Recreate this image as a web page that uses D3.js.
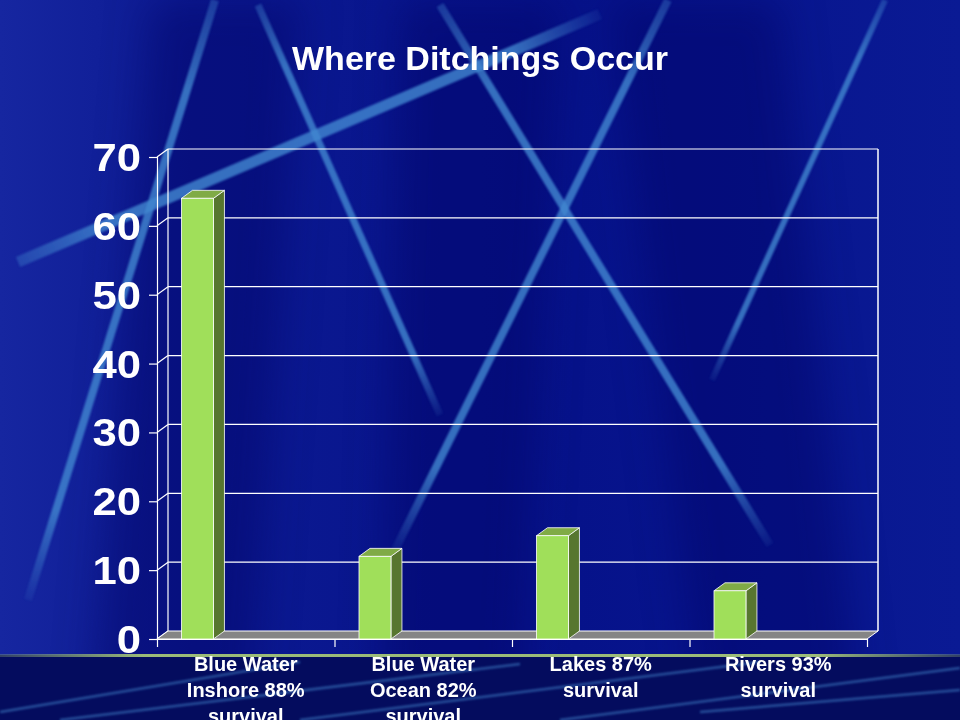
<!DOCTYPE html>
<html>
<head>
<meta charset="utf-8">
<script src="https://cdn.jsdelivr.net/npm/d3@7"></script>
<style>
  html, body { margin: 0; padding: 0; background: #0a1890; }
  svg { display: block; }
  text { font-family: "Liberation Sans", Arial, sans-serif; font-weight: bold; fill: #ffffff; }
</style>
</head>
<body>
<svg id="chart" width="960" height="720"></svg>
<script>
// ---- data ----
const title = "Where Ditchings Occur";
const categories = [
  ["Blue Water", "Inshore 88%", "survival"],
  ["Blue Water", "Ocean 82%", "survival"],
  ["Lakes 87%", "survival"],
  ["Rivers 93%", "survival"]
];
const values = [64, 12, 15, 7];
const yTicks = [0, 10, 20, 30, 40, 50, 60, 70];

// ---- layout ----
const W = 960, H = 720;
const plot = { left: 157, right: 867, top: 157, bottom: 639 };
const depth = { dx: 11, dy: -8 };

const svg = d3.select("#chart");
const defs = svg.append("defs");

// background
const bg = defs.append("linearGradient").attr("id", "bg").attr("x1", 0).attr("y1", 0).attr("x2", 1).attr("y2", 0);
bg.append("stop").attr("offset", 0).attr("stop-color", "#1626a0");
bg.append("stop").attr("offset", 0.2).attr("stop-color", "#0c1a92");
bg.append("stop").attr("offset", 0.6).attr("stop-color", "#06128a");
bg.append("stop").attr("offset", 1).attr("stop-color", "#0a1a94");
svg.append("rect").attr("width", W).attr("height", H).attr("fill", "url(#bg)");

const blur = defs.append("filter").attr("id", "soft").attr("x", "-20%").attr("y", "-20%").attr("width", "140%").attr("height", "140%");
blur.append("feGaussianBlur").attr("stdDeviation", 1.2);
const blurBig = defs.append("filter").attr("id", "softBig").attr("x", "-20%").attr("y", "-20%").attr("width", "140%").attr("height", "140%");
blurBig.append("feGaussianBlur").attr("stdDeviation", 20);

// darker background wedges
const wedges = [
  [[150, 0], [300, 0], [250, 720], [90, 720]],
  [[400, 0], [560, 0], [520, 720], [380, 720]],
  [[610, 0], [780, 0], [860, 720], [700, 720]]
];
svg.append("g").attr("filter", "url(#softBig)")
  .selectAll("polygon").data(wedges).join("polygon")
  .attr("points", d => d.map(p => p.join(",")).join(" "))
  .attr("fill", "#000560").attr("opacity", 0.4);

// light streaks
const streaks = [
  [18, 262, 600, 14, 11],
  [215, 0, 28, 600, 8],
  [258, 5, 440, 415, 7],
  [440, 5, 770, 545, 8],
  [668, 0, 395, 550, 8],
  [885, 0, 712, 380, 6]
];
streaks.forEach((s, i) => {
  const g = defs.append("linearGradient").attr("id", "st" + i).attr("gradientUnits", "userSpaceOnUse")
    .attr("x1", s[0]).attr("y1", s[1]).attr("x2", s[2]).attr("y2", s[3]);
  g.append("stop").attr("offset", 0).attr("stop-color", "#4288d0").attr("stop-opacity", 0.35);
  g.append("stop").attr("offset", 0.15).attr("stop-color", "#4288d0").attr("stop-opacity", 0.8);
  g.append("stop").attr("offset", 0.85).attr("stop-color", "#4288d0").attr("stop-opacity", 0.8);
  g.append("stop").attr("offset", 1).attr("stop-color", "#4288d0").attr("stop-opacity", 0.1);
});
svg.append("g").attr("filter", "url(#soft)")
  .selectAll("line").data(streaks).join("line")
  .attr("x1", d => d[0]).attr("y1", d => d[1]).attr("x2", d => d[2]).attr("y2", d => d[3])
  .attr("stroke", (d, i) => `url(#st${i})`).attr("stroke-width", d => d[4]);

// bottom strip
svg.append("rect").attr("x", 0).attr("y", 655).attr("width", W).attr("height", H - 655).attr("fill", "#040c5e");
const bstreaks = [[0, 712, 300, 662], [60, 720, 520, 664], [300, 720, 760, 662], [560, 720, 960, 668], [700, 712, 960, 690]];
svg.append("g").attr("filter", "url(#soft)")
  .selectAll("line").data(bstreaks).join("line")
  .attr("x1", d => d[0]).attr("y1", d => d[1]).attr("x2", d => d[2]).attr("y2", d => d[3])
  .attr("stroke", "#3c7cc4").attr("stroke-width", 2.5).attr("opacity", 0.6);
const lg = defs.append("linearGradient").attr("id", "olive").attr("x1", 0).attr("x2", 1);
lg.append("stop").attr("offset", 0).attr("stop-color", "#9cbc78").attr("stop-opacity", 0.3);
lg.append("stop").attr("offset", 0.15).attr("stop-color", "#9cbc78").attr("stop-opacity", 1);
lg.append("stop").attr("offset", 0.85).attr("stop-color", "#9cbc78").attr("stop-opacity", 1);
lg.append("stop").attr("offset", 1).attr("stop-color", "#9cbc78").attr("stop-opacity", 0.3);
svg.append("rect").attr("x", 0).attr("y", 654).attr("width", W).attr("height", 3).attr("fill", "url(#olive)");

// ---- scales ----
const y = d3.scaleLinear().domain([0, 70]).range([plot.bottom, plot.top]);
const x = d3.scaleBand().domain(d3.range(categories.length)).range([plot.left, plot.right]);

const chart = svg.append("g");

// back wall gridlines and border
const wallL = plot.left + depth.dx, wallR = plot.right + depth.dx;
chart.append("g").selectAll("line.grid").data(yTicks.filter(t => t > 0)).join("line")
  .attr("x1", wallL).attr("x2", wallR)
  .attr("y1", d => y(d) + depth.dy).attr("y2", d => y(d) + depth.dy)
  .attr("stroke", "#ffffff").attr("stroke-width", 1.2);
chart.append("g").selectAll("line.side").data(yTicks).join("line")
  .attr("x1", plot.left).attr("y1", d => y(d))
  .attr("x2", wallL).attr("y2", d => y(d) + depth.dy)
  .attr("stroke", "#ffffff").attr("stroke-width", 1.2);
chart.append("line").attr("x1", wallL).attr("x2", wallL)
  .attr("y1", y(70) + depth.dy).attr("y2", y(0) + depth.dy).attr("stroke", "#fff").attr("stroke-width", 1.2);
chart.append("line").attr("x1", wallR).attr("x2", wallR)
  .attr("y1", y(70) + depth.dy).attr("y2", y(0) + depth.dy).attr("stroke", "#fff").attr("stroke-width", 1.5);

// floor
chart.append("polygon")
  .attr("points", [
    [plot.left, y(0)], [plot.right, y(0)],
    [wallR, y(0) + depth.dy], [wallL, y(0) + depth.dy]
  ].map(p => p.join(",")).join(" "))
  .attr("fill", "#858585").attr("stroke", "#ffffff").attr("stroke-width", 1);

// front axis
const yAxis = d3.axisLeft(y).tickValues(yTicks).tickSize(8).tickFormat("");
chart.append("g").attr("transform", `translate(${plot.left},0)`).call(yAxis)
  .call(g => g.selectAll("line,path").attr("stroke", "#ffffff").attr("stroke-width", 1.2));
const xAxis = d3.axisBottom(d3.scaleLinear().domain([0, 4]).range([plot.left, plot.right]))
  .tickValues([0, 1, 2, 3, 4]).tickSize(8).tickFormat("").tickSizeOuter(0);
chart.append("g").attr("transform", `translate(0,${plot.bottom})`).call(xAxis)
  .call(g => g.selectAll("line,path").attr("stroke", "#ffffff").attr("stroke-width", 1.2));

// y labels
chart.append("g").selectAll("text").data(yTicks).join("text")
  .attr("text-anchor", "end")
  .attr("transform", d => `translate(141,${y(d) + 14}) scale(1.12,1)`)
  .attr("font-size", 39)
  .text(d => d);

// bars
const bw = x.bandwidth();
const barW = bw * 0.18, barOff = bw * 0.138;
const bars = chart.append("g").selectAll("g").data(values).join("g");
bars.append("polygon") // side
  .attr("points", (d, i) => {
    const x1 = x(i) + barOff + barW;
    return [[x1, y(d)], [x1 + depth.dx, y(d) + depth.dy], [x1 + depth.dx, y(0) + depth.dy], [x1, y(0)]].map(p => p.join(",")).join(" ");
  })
  .attr("fill", "#57762f").attr("stroke", "#ffffff").attr("stroke-width", 0.8).attr("stroke-linejoin", "round");
bars.append("polygon") // top
  .attr("points", (d, i) => {
    const x0 = x(i) + barOff, x1 = x0 + barW;
    return [[x0, y(d)], [x0 + depth.dx, y(d) + depth.dy], [x1 + depth.dx, y(d) + depth.dy], [x1, y(d)]].map(p => p.join(",")).join(" ");
  })
  .attr("fill", "#80ab46").attr("stroke", "#ffffff").attr("stroke-width", 0.8).attr("stroke-linejoin", "round");
bars.append("rect") // front
  .attr("x", (d, i) => x(i) + barOff).attr("y", d => y(d))
  .attr("width", barW).attr("height", d => y(0) - y(d))
  .attr("fill", "#a0df5a").attr("stroke", "#ffffff").attr("stroke-width", 0.8);

// category labels
const cl = chart.append("g").selectAll("text").data(categories).join("text")
  .attr("text-anchor", "middle")
  .attr("font-size", 20)
  .attr("x", (d, i) => x(i) + bw / 2)
  .attr("y", 671);
cl.selectAll("tspan").data(d => d).join("tspan")
  .attr("x", function () { return d3.select(this.parentNode).attr("x"); })
  .attr("dy", (d, j) => j === 0 ? 0 : 26)
  .text(d => d);

// title
svg.append("text").attr("x", 480).attr("y", 70).attr("text-anchor", "middle")
  .attr("font-size", 34).text(title);
</script>
</body>
</html>
